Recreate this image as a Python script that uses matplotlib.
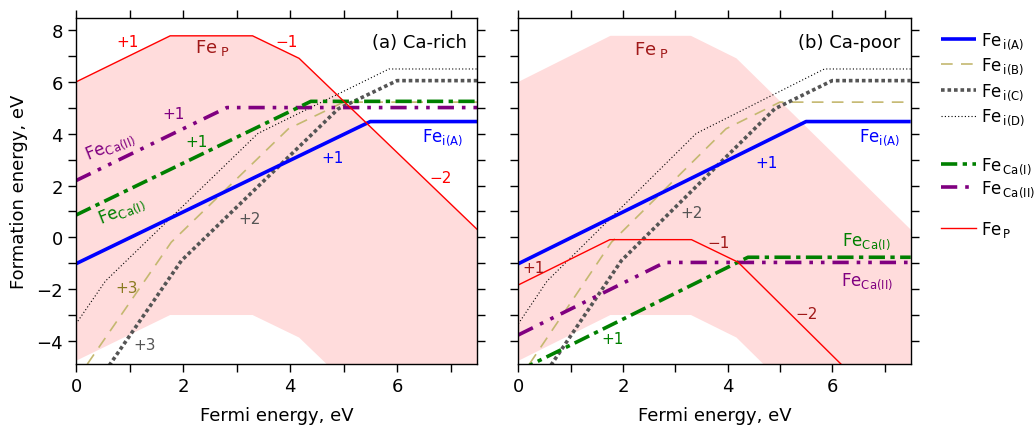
import matplotlib
matplotlib.use("Agg")
import matplotlib.pyplot as plt
from matplotlib.lines import Line2D

plt.rcParams['font.family'] = ['DejaVu Sans']
plt.rcParams['mathtext.fontset'] = 'dejavusans'

# ---------------- data (polyline vertices) ----------------
x_max = 7.5
y_lim = (-4.88, 8.48)

# Fe_P band (same in both panels): upper edge = Fe_P Ca-rich, lower edge
band_x = [0.0, 1.76, 3.30, 4.17, 7.5]
band_top = [6.0, 7.78, 7.78, 6.91, 0.30]
band_bot = [-4.77, -3.0, -3.0, -3.87, -10.5]

# Fe_P lines
feP_rich_x = [0.0, 1.76, 3.30, 4.17, 7.5]
feP_rich_y = [6.0, 7.78, 7.78, 6.91, 0.30]
feP_poor_x = [0.0, 1.75, 3.31, 4.20, 7.5]
feP_poor_y = [-1.84, -0.09, -0.09, -0.96, -7.56]

# interstitials (same in both panels)
feiA_x = [0.0, 5.50, 7.5]
feiA_y = [-1.02, 4.47, 4.47]
feiB_x = [0.0, 1.78, 3.97, 5.00, 7.5]
feiB_y = [-5.53, -0.19, 4.19, 5.22, 5.22]
feiC_x = [0.0, 1.97, 4.90, 6.00, 7.5]
feiC_y = [-6.81, -0.90, 4.96, 6.05, 6.05]
feiD_x = [0.0, 0.55, 3.40, 5.85, 7.5]
feiD_y = [-3.34, -1.69, 4.01, 6.50, 6.50]

# Ca substitutions
feCaI_rich_x = [0.0, 4.39, 7.5]
feCaI_rich_y = [0.86, 5.25, 5.25]
feCaII_rich_x = [0.0, 2.82, 7.5]
feCaII_rich_y = [2.19, 5.01, 5.01]
feCaI_poor_x = [0.0, 4.39, 7.5]
feCaI_poor_y = [-5.16, -0.77, -0.77]
feCaII_poor_x = [0.0, 2.80, 7.5]
feCaII_poor_y = [-3.77, -0.97, -0.97]

# ---------------- styles ----------------
c_pink = '#ffdcdc'
c_red = '#ff0000'
c_dred = '#a01818'
c_blue = '#0000ff'
c_olive = '#c4b870'
c_gray = '#555555'
c_green = '#008000'
c_purple = '#800080'

st_A = dict(color=c_blue, lw=2.6, ls='-', solid_capstyle='butt')
st_B = dict(color=c_olive, lw=1.2, ls=(0, (7, 5)))
st_C = dict(color=c_gray, lw=2.6, ls=(0, (1, 0.8)))
st_D = dict(color='black', lw=0.8, ls=(0, (1, 2)))
st_CaI = dict(color=c_green, lw=2.6, ls=(0, (4.5, 1.5, 1.2, 1.5)))
st_CaII = dict(color=c_purple, lw=2.6, ls=(0, (4.5, 2.2, 1.0, 2.2, 1.0, 2.2)))
st_P = dict(color=c_red, lw=1.0, ls='-')

fig = plt.figure(figsize=(10.35, 4.27), dpi=100)
ax_a = fig.add_axes([76/1035, 1-364.7/427, (477.3-76)/1035, (364.7-18.7)/427])
ax_b = fig.add_axes([518.3/1035, 1-364.7/427, (910.7-518.3)/1035, (364.7-18.7)/427])

for ax in (ax_a, ax_b):
    ax.fill_between(band_x, band_bot, band_top, color=c_pink, lw=0, zorder=0)
    ax.plot(feiD_x, feiD_y, **st_D)
    ax.plot(feiB_x, feiB_y, **st_B)
    ax.plot(feiC_x, feiC_y, **st_C)
    ax.plot(feiA_x, feiA_y, **st_A)
    ax.set_xlim(0, x_max)
    ax.set_ylim(*y_lim)
    ax.set_xticks([0, 2, 4, 6])
    ax.set_xticks([1, 3, 5, 7], minor=True)
    ax.set_yticks([-4, -2, 0, 2, 4, 6, 8])
    ax.set_yticks([-3, -1, 1, 3, 5, 7], minor=True)
    ax.tick_params(which='both', direction='out', length=6, width=1,
                   top=True, right=True, labelsize=13)
    ax.set_xlabel('Fermi energy, eV', fontsize=13, labelpad=8)
    for sp in ax.spines.values():
        sp.set_linewidth(1.0)

ax_a.plot(feCaII_rich_x, feCaII_rich_y, **st_CaII)
ax_a.plot(feCaI_rich_x, feCaI_rich_y, **st_CaI)
ax_a.plot(feP_rich_x, feP_rich_y, **st_P)

ax_b.plot(feCaII_poor_x, feCaII_poor_y, **st_CaII)
ax_b.plot(feCaI_poor_x, feCaI_poor_y, **st_CaI)
ax_b.plot(feP_poor_x, feP_poor_y, **st_P)

ax_a.set_ylabel('Formation energy, eV', fontsize=13, labelpad=6)
ax_b.tick_params(labelleft=False)

fs = 11
def lab(ax, x, y, s, c, size=fs, rot=0):
    ax.text(x, y, s, color=c, fontsize=size, ha='center', va='center', rotation=rot)

# panel (a) labels
lab(ax_a, 0.97, 7.55, '+1', c_red)
lab(ax_a, 2.55, 7.35, r'Fe$_{\ \mathregular{P}}$', c_dred, 13)
lab(ax_a, 3.93, 7.55, '\u22121', c_red)
ax_a.text(7.3, 7.55, '(a) Ca-rich', fontsize=13, ha='right', va='center')
lab(ax_a, 0.65, 3.55, r'Fe$_{\mathregular{Ca(II)}}$', c_purple, 12, 22)
lab(ax_a, 1.82, 4.77, '+1', c_purple)
lab(ax_a, 2.25, 3.70, '+1', c_green)
lab(ax_a, 0.85, 1.05, r'Fe$_{\mathregular{Ca(I)}}$', c_green, 12, 22)
lab(ax_a, 4.80, 3.09, '+1', c_blue)
lab(ax_a, 6.85, 3.90, r'Fe$_{\mathregular{i(A)}}$', c_blue, 12)
lab(ax_a, 6.82, 2.32, '\u22122', c_red)
lab(ax_a, 3.25, 0.71, '+2', c_gray)
lab(ax_a, 0.95, -1.93, '+3', '#8a7a20')
lab(ax_a, 1.29, -4.12, '+3', c_gray)

# panel (b) labels
lab(ax_b, 2.55, 7.27, r'Fe$_{\ \mathregular{P}}$', c_dred, 13)
ax_b.text(7.3, 7.55, '(b) Ca-poor', fontsize=13, ha='right', va='center')
lab(ax_b, 6.90, 3.90, r'Fe$_{\mathregular{i(A)}}$', c_blue, 12)
lab(ax_b, 4.75, 2.90, '+1', c_blue)
lab(ax_b, 3.32, 0.97, '+2', c_gray)
lab(ax_b, 0.29, -1.15, '+1', c_dred)
lab(ax_b, 3.82, -0.19, '\u22121', c_dred)
lab(ax_b, 6.66, -0.13, r'Fe$_{\mathregular{Ca(I)}}$', c_green, 12)
lab(ax_b, 6.66, -1.67, r'Fe$_{\mathregular{Ca(II)}}$', c_purple, 12)
lab(ax_b, 5.51, -2.96, '\u22122', c_dred)
lab(ax_b, 1.80, -3.92, '+1', c_green)

# legends (three groups)
leg_kw = dict(frameon=False, fontsize=12, handlelength=2.1, handletextpad=0.3,
              borderpad=0, borderaxespad=0)
h1 = [Line2D([], [], **st_A), Line2D([], [], **st_B), Line2D([], [], **st_C), Line2D([], [], **st_D)]
l1 = [r'Fe$_{\,\mathregular{i(A)}}$', r'Fe$_{\,\mathregular{i(B)}}$',
      r'Fe$_{\,\mathregular{i(C)}}$', r'Fe$_{\,\mathregular{i(D)}}$']
lg1 = fig.legend(h1, l1, loc='upper left', bbox_to_anchor=(941/1035, 1-31/427),
                 labelspacing=0.3, **leg_kw)
h2 = [Line2D([], [], **st_CaI), Line2D([], [], **st_CaII)]
l2 = [r'Fe$_{\,\mathregular{Ca(I)}}$', r'Fe$_{\,\mathregular{Ca(II)}}$']
lg2 = fig.legend(h2, l2, loc='upper left', bbox_to_anchor=(941/1035, 1-156/427),
                 labelspacing=0.15, **leg_kw)
h3 = [Line2D([], [], **st_P)]
l3 = [r'Fe$_{\,\mathregular{P}}$']
lg3 = fig.legend(h3, l3, loc='upper left', bbox_to_anchor=(941/1035, 1-220/427), **leg_kw)

fig.savefig('out.png', dpi=100)
